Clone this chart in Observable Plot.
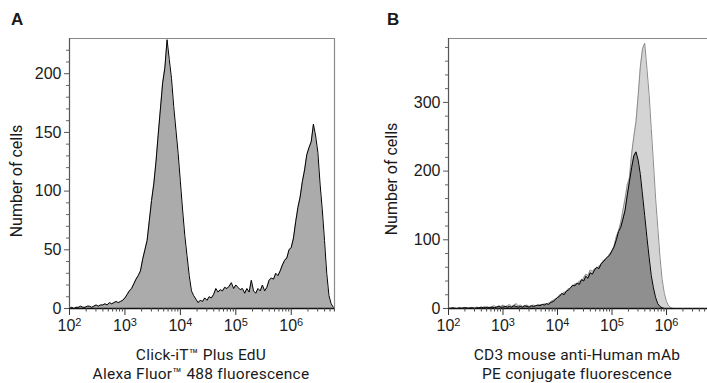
<!DOCTYPE html>
<html><head><meta charset="utf-8">
<script src="https://cdn.jsdelivr.net/npm/d3@7"></script>
<script src="https://cdn.jsdelivr.net/npm/@observablehq/plot@0.6"></script>
<style>
body{margin:0;background:#fff;}
#wrap{position:relative;width:707px;height:383px;overflow:hidden;font-family:Roboto,"Liberation Sans",sans-serif;color:#1a1a1a;}
.panel{position:absolute;top:0;}
.letter{position:absolute;font:bold 17px "Liberation Sans",Arial,sans-serif;line-height:20px;}
.ytitle{position:absolute;width:200px;height:20px;line-height:20px;text-align:center;font-size:16px;transform:rotate(-90deg);}
.xtitle{position:absolute;text-align:center;font-size:15.5px;line-height:18.5px;letter-spacing:0.25px;width:300px;}
</style></head>
<body><div id="wrap"></div>
<script>
// Panel A: Click-iT Plus EdU histogram (x = log10 fluorescence, y = number of cells)
const aExp = [
2.00,2.04,2.08,2.12,2.16,2.20,2.24,2.28,2.32,2.36,
2.40,2.44,2.48,2.52,2.56,2.60,2.64,2.68,2.72,2.76,
2.80,2.84,2.88,2.92,2.96,3.00,3.04,3.08,3.12,3.16,
3.20,3.24,3.28,3.32,3.36,3.40,3.44,3.48,3.52,3.56,
3.60,3.64,3.68,3.72,3.76,3.80,3.84,3.88,3.92,3.96,
4.00,4.04,4.08,4.12,4.16,4.20,4.24,4.28,4.32,4.36,
4.40,4.44,4.48,4.52,4.56,4.60,4.64,4.68,4.72,4.76,
4.80,4.84,4.88,4.92,4.96,5.00,5.04,5.08,5.12,5.16,
5.20,5.24,5.28,5.32,5.36,5.40,5.44,5.48,5.52,5.56,
5.60,5.64,5.68,5.72,5.76,5.80,5.84,5.88,5.92,5.96,
6.00,6.04,6.08,6.12,6.16,6.20,6.24,6.28,6.32,6.36,
6.40,6.44,6.48,6.52,6.56,6.60,6.64,6.68,6.72,6.76];
const aCount = [
0,1,0,1,1,2,1,1,2,2,
1,2,3,2,3,3,4,3,5,4,
5,6,5,6,7,9,12,15,17,21,
25,28,32,42,50,58,75,92,106,125,
148,170,192,205,229,212,196,172,152,132,
108,84,62,45,28,15,11,8,5,7,
6,9,7,10,9,12,17,14,16,15,
18,17,19,22,17,20,18,16,17,13,
17,14,24,15,13,17,15,20,15,18,
24,26,25,30,28,32,37,41,43,50,
52,60,74,86,95,108,118,131,137,142,
157,147,133,106,84,58,30,11,4,1];

// Panel B: CD3 PE histograms (two overlaid samples)
const bExp = [
2.00,2.04,2.08,2.12,2.16,2.20,2.24,2.28,2.32,2.36,
2.40,2.44,2.48,2.52,2.56,2.60,2.64,2.68,2.72,2.76,
2.80,2.84,2.88,2.92,2.96,3.00,3.04,3.08,3.12,3.16,
3.20,3.24,3.28,3.32,3.36,3.40,3.44,3.48,3.52,3.56,
3.60,3.64,3.68,3.72,3.76,3.80,3.84,3.88,3.92,3.96,
4.00,4.04,4.08,4.12,4.16,4.20,4.24,4.28,4.32,4.36,
4.40,4.44,4.48,4.52,4.56,4.60,4.64,4.68,4.72,4.76,
4.80,4.84,4.88,4.92,4.96,5.00,5.04,5.08,5.12,5.16,
5.20,5.24,5.28,5.32,5.36,5.40,5.44,5.48,5.52,5.56,
5.60,5.64,5.68,5.72,5.76,5.80,5.84,5.88,5.92,5.96,
6.00,6.04,6.08,6.12,6.16,6.20];
const bDark = [
0,0,1,0,0,1,0,1,1,0,
1,1,0,1,1,2,1,1,2,1,
2,1,2,3,2,2,3,2,3,2,
4,3,2,3,2,4,3,2,4,3,
4,5,4,6,5,7,6,9,10,13,
16,18,22,20,25,27,30,34,33,37,
35,42,40,47,44,52,50,56,60,58,
65,68,72,75,78,84,90,100,112,118,
130,143,165,185,205,222,228,216,195,165,
135,104,75,48,30,16,7,3,1,0,
0,0,0,0,0,0];
const bLight = [
0,1,0,1,0,0,1,0,1,1,
0,1,1,2,1,1,2,3,1,2,
3,4,2,4,3,5,3,4,6,3,
5,7,4,5,3,4,5,3,4,5,
3,4,6,5,7,6,8,10,12,14,
15,20,19,24,23,29,28,31,36,35,
40,39,45,50,48,56,54,58,57,62,
63,70,70,74,80,83,92,105,113,125,
143,160,180,190,225,250,272,310,352,378,
386,350,312,262,212,160,118,75,42,22,
10,4,1,0,0,0];

const yMajorA = [0,50,100,150,200];
const yMinorA = [10,20,30,40,60,70,80,90,110,120,130,140,160,170,180,190,210,220];
const yMajorB = [0,100,200,300];
const yMinorB = [20,40,60,80,120,140,160,180,220,240,260,280,320,340,360,380];
const xMajor = [1e2,1e3,1e4,1e5,1e6];
const minorMult = [2,3,4,5,6,7,8,9];
const decades = [1e2,1e3,1e4,1e5,1e6];

const toRows = (ex, ys) => ex.map((e, i) => ({x: Math.pow(10, e), y: ys[i]}));

function makePanel({width, marginLeft, marginRight, xMaxExp, yMax, yMajor, yMinor, series, frameRight}) {
  const xMax = Math.pow(10, xMaxExp);
  const xMinor = [];
  decades.forEach(d => minorMult.forEach(m => { if (d * m <= xMax) xMinor.push(d * m); }));
  const marks = [];
  series.forEach(s => {
    marks.push(Plot.areaY(s.data, {x: "x", y: "y", fill: s.fill}));
    marks.push(Plot.lineY(s.data, {x: "x", y: "y", stroke: s.stroke, strokeWidth: 1}));
  });
  marks.push(Plot.ruleY([yMax], {stroke: "#8a8a8a", strokeWidth: 1.2}));
  if (frameRight) marks.push(Plot.ruleX([xMax], {stroke: "#8a8a8a", strokeWidth: 1.2}));
  marks.push(Plot.ruleY([0], {stroke: "#111", strokeWidth: 1.5}));
  marks.push(Plot.ruleX([1e2], {stroke: "#555", strokeWidth: 1.2}));
  marks.push(Plot.axisY(yMajor, {tickSize: 5, tickPadding: 3, label: null, stroke: "#555", fill: "#1a1a1a"}));
  marks.push(Plot.axisY(yMinor, {tickSize: 3, tickFormat: () => "", label: null, stroke: "#666"}));
  marks.push(Plot.axisX(xMajor, {tickSize: 7, tickPadding: 4, label: null, stroke: "#333", fill: "#1a1a1a",
    tickFormat: d => "10^" + Math.round(Math.log10(d))}));
  marks.push(Plot.axisX(xMinor, {tickSize: 3.5, tickFormat: () => "", label: null, stroke: "#444"}));
  const svg = Plot.plot({
    width, height: 383, marginLeft, marginRight, marginTop: 38, marginBottom: 75,
    x: {type: "log", domain: [1e2, xMax]},
    y: {domain: [0, yMax]},
    style: {fontFamily: "'Liberation Sans', Arial, sans-serif", fontSize: "16px", background: "transparent", color: "#1a1a1a"},
    marks
  });
  // superscript exponents in "10^n" tick labels
  d3.select(svg).selectAll("text").each(function() {
    const t = this.textContent;
    if (/^10\^\d$/.test(t)) {
      const n = t.split("^")[1];
      const sel = d3.select(this);
      sel.text(null);
      sel.append("tspan").text("10");
      sel.append("tspan").attr("dy", "-0.45em").attr("font-size", "11px").text(n);
    }
  });
  return svg;
}

const wrap = document.getElementById("wrap");

const svgA = makePanel({
  width: 360, marginLeft: 69, marginRight: 26, xMaxExp: 6.78, yMax: 230,
  yMajor: yMajorA, yMinor: yMinorA, frameRight: true,
  series: [{data: toRows(aExp, aCount), fill: "#ababab", stroke: "#000"}]
});
const pA = document.createElement("div"); pA.className = "panel"; pA.style.left = "0px"; pA.appendChild(svgA); wrap.appendChild(pA);

const svgB = makePanel({
  width: 347, marginLeft: 88, marginRight: 0, xMaxExp: 6.752, yMax: 393,
  yMajor: yMajorB, yMinor: yMinorB, frameRight: false,
  series: [
    {data: toRows(bExp, bLight), fill: "#d4d4d4", stroke: "#8c8c8c"},
    {data: toRows(bExp, bDark), fill: "#8f8f8f", stroke: "#000"}
  ]
});
const pB = document.createElement("div"); pB.className = "panel"; pB.style.left = "360px"; pB.appendChild(svgB); wrap.appendChild(pB);

function addDiv(cls, text, styles) {
  const d = document.createElement("div");
  d.className = cls;
  d.innerHTML = text;
  Object.assign(d.style, styles);
  wrap.appendChild(d);
}
addDiv("letter", "A", {left: "11px", top: "10px"});
addDiv("letter", "B", {left: "387px", top: "10px"});
addDiv("ytitle", "Number of cells", {left: (17 - 100) + "px", top: (181 - 10) + "px"});
addDiv("ytitle", "Number of cells", {left: (392 - 100) + "px", top: (179 - 10) + "px"});
addDiv("xtitle", "Click-iT™ Plus EdU<br>Alexa Fluor™ 488 fluorescence", {left: (201 - 150) + "px", top: "346px"});
addDiv("xtitle", "CD3 mouse anti-Human mAb<br>PE conjugate fluorescence", {left: (577 - 150) + "px", top: "346px"});
</script>
</body></html>
